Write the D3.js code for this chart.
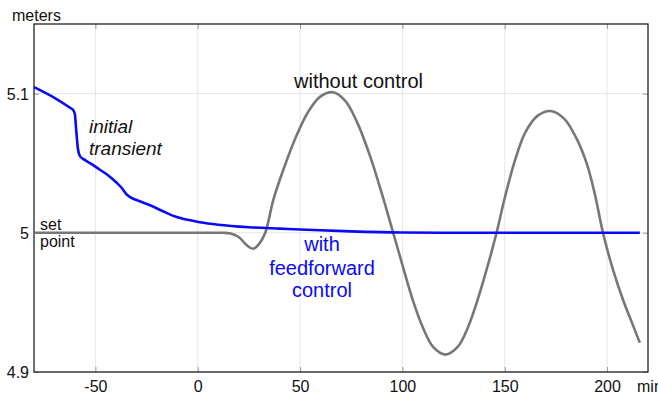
<!DOCTYPE html>
<html>
<head>
<meta charset="utf-8">
<script src="https://cdn.jsdelivr.net/npm/d3@7"></script>
<style>
  body { margin: 0; background: #fff; }
  text { font-family: "Liberation Sans", Arial, sans-serif; }
</style>
</head>
<body>
<div id="chart"></div>
<script>
var svgWidth = 658;
var svgHeight = 397;

var margin = { top: 24, right: 10, bottom: 25, left: 34 };
var width = 648 - margin.left;
var height = 372 - margin.top;

// tick values
var xTicks = [-50, 0, 50, 100, 150, 200];
var yTicks = [4.9, 5, 5.1];

// with feedforward control (blue)
var ffTime = [-80, -70, -62, -61, -60, -59.5, -58.5, -57.5, -55, -52, -48, -44, -40, -37, -35, -33,
  -28, -23, -17, -11, -5, 1, 10, 25, 40, 50, 75, 100, 130, 216];
var ffLevel = [5.1047, 5.097, 5.0895, 5.0885, 5.085, 5.076, 5.060, 5.0549, 5.0522, 5.0495, 5.0455,
  5.0415, 5.0365, 5.032, 5.028, 5.0256, 5.0225, 5.0196, 5.0155, 5.0117, 5.0093, 5.0076, 5.0058,
  5.0040, 5.003, 5.0024, 5.001, 5.0002, 5.0, 5.0];

// without control (grey)
var ncTime = [-80, 0, 12, 16, 20, 24, 27, 30, 33, 37, 42, 48, 54, 60, 66, 72, 78, 84, 90, 95.5,
  100, 105, 110, 115, 121, 127, 132, 137, 142, 146, 150, 155, 160, 166, 172.5, 179, 185, 190, 194,
  198, 203, 208, 212, 216];
var ncLevel = [5.0, 5.0, 5.0, 4.9995, 4.997, 4.991, 4.9885, 4.992, 5.0, 5.024, 5.046, 5.069, 5.087,
  5.098, 5.101, 5.095, 5.079, 5.056, 5.028, 5.0, 4.977, 4.952, 4.932, 4.918, 4.9125, 4.918, 4.932,
  4.953, 4.978, 5.0, 5.025, 5.052, 5.072, 5.084, 5.0875, 5.082, 5.068, 5.05, 5.028, 5.0, 4.973,
  4.951, 4.936, 4.921];

var ffData = ffTime.map((t, i) => ({ t: t, v: ffLevel[i] }));
var ncData = ncTime.map((t, i) => ({ t: t, v: ncLevel[i] }));

var svg = d3.select("#chart")
  .append("svg")
  .attr("width", svgWidth)
  .attr("height", svgHeight);

var chartGroup = svg.append("g")
  .attr("transform", `translate(${margin.left}, ${margin.top})`);

var xScale = d3.scaleLinear().domain([-80, 220]).range([0, width]);
var yScale = d3.scaleLinear().domain([4.9, 5.15]).range([height, 0]);

// grid lines
chartGroup.append("g")
  .selectAll("line.vg")
  .data(xTicks)
  .enter()
  .append("line")
  .attr("x1", d => xScale(d)).attr("x2", d => xScale(d))
  .attr("y1", 0).attr("y2", height)
  .attr("stroke", "#e6e6e6").attr("stroke-width", 1);

chartGroup.append("g")
  .selectAll("line.hg")
  .data(yTicks)
  .enter()
  .append("line")
  .attr("x1", 0).attr("x2", width)
  .attr("y1", d => yScale(d)).attr("y2", d => yScale(d))
  .attr("stroke", "#e6e6e6").attr("stroke-width", 1);

// axes with inward ticks (bottom / left carry the labels)
var xAxis = d3.axisBottom(xScale).tickValues(xTicks).tickFormat(d => String(d))
  .tickSizeInner(-5).tickSizeOuter(0).tickPadding(9);
var yAxis = d3.axisLeft(yScale).tickValues(yTicks).tickFormat(d => String(d))
  .tickSizeInner(-5).tickSizeOuter(0).tickPadding(5);

var gx = chartGroup.append("g")
  .attr("transform", `translate(0, ${height})`)
  .call(xAxis);
gx.selectAll("text").attr("font-size", "16px").attr("fill", "#111");

var gy = chartGroup.append("g").call(yAxis);
gy.selectAll("text").attr("font-size", "16px").attr("fill", "#111").attr("dy", "0.36em");

var gTop = chartGroup.append("g")
  .call(d3.axisTop(xScale).tickValues(xTicks).tickSizeInner(-5).tickSizeOuter(0).tickFormat(""));
var gRight = chartGroup.append("g")
  .attr("transform", `translate(${width}, 0)`)
  .call(d3.axisRight(yScale).tickValues(yTicks).tickSizeInner(-5).tickSizeOuter(0).tickFormat(""));

[gx, gy, gTop, gRight].forEach(function(g) {
  g.select(".domain").remove();
  g.selectAll(".tick line").attr("stroke", "#999");
});

// frame
chartGroup.append("rect")
  .attr("x", 0).attr("y", 0)
  .attr("width", width).attr("height", height)
  .attr("fill", "none")
  .attr("stroke", "#222")
  .attr("stroke-width", 1.3);

var line = d3.line()
  .x(d => xScale(d.t))
  .y(d => yScale(d.v))
  .curve(d3.curveMonotoneX);

var smoothLine = d3.line()
  .x(d => xScale(d.t))
  .y(d => yScale(d.v))
  .curve(d3.curveCatmullRom.alpha(0.5));

chartGroup.append("path")
  .datum(ncData)
  .attr("d", smoothLine)
  .attr("fill", "none")
  .attr("stroke", "#777")
  .attr("stroke-width", 2.6);

chartGroup.append("path")
  .datum(ffData)
  .attr("d", line)
  .attr("fill", "none")
  .attr("stroke", "#0a0af5")
  .attr("stroke-width", 2.6);

// labels
svg.append("text").attr("x", 12).attr("y", 20.5).attr("font-size", "16px").attr("fill", "#111").text("meters");
svg.append("text").attr("x", 637).attr("y", 392).attr("font-size", "16px").attr("fill", "#111").text("min");

svg.append("text").attr("x", 294).attr("y", 88).attr("font-size", "20px").attr("fill", "#111").text("without control");

svg.append("text").attr("x", 89).attr("y", 133).attr("font-size", "19px").attr("font-style", "italic").attr("fill", "#111").text("initial");
svg.append("text").attr("x", 89).attr("y", 155).attr("font-size", "19px").attr("font-style", "italic").attr("fill", "#111").text("transient");

svg.append("text").attr("x", 40).attr("y", 230).attr("font-size", "16px").attr("fill", "#111").text("set");
svg.append("text").attr("x", 40).attr("y", 247).attr("font-size", "16px").attr("fill", "#111").text("point");

var ffLabel = svg.append("text")
  .attr("text-anchor", "middle")
  .attr("font-size", "20px")
  .attr("fill", "#0a0af5");
ffLabel.append("tspan").attr("x", 322).attr("y", 251).text("with");
ffLabel.append("tspan").attr("x", 322).attr("y", 275).text("feedforward");
ffLabel.append("tspan").attr("x", 322).attr("y", 297).text("control");
</script>
</body>
</html>
